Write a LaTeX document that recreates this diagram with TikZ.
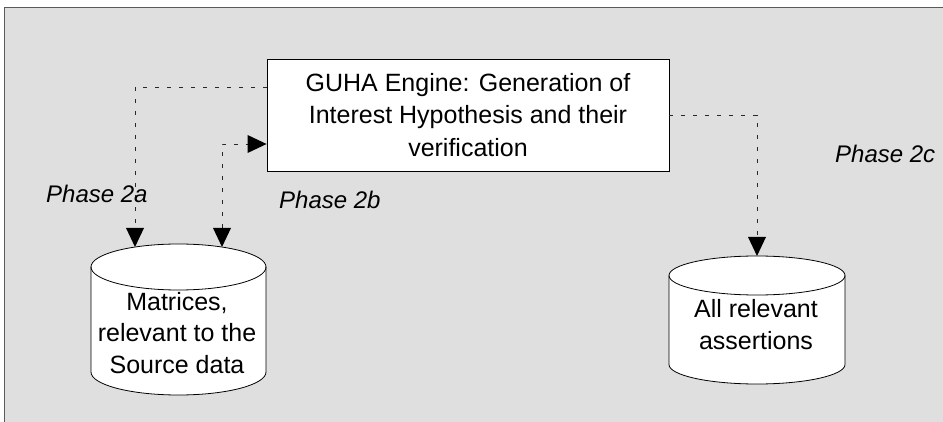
\documentclass[tikz,border=0pt]{standalone}
\usepackage{fontspec}
\setmainfont{Liberation Sans}
\usetikzlibrary{arrows.meta,calc}
\definecolor{panelgray}{RGB}{223,223,223}
\definecolor{framegray}{RGB}{90,90,90}
\definecolor{linegray}{RGB}{40,40,40}

% database drum drawn around an (invisible) rectangular node; #2 = half height of the end ellipse
\newcommand\drumaround[2]{%
  \path let \p1=(#1.north west), \p2=(#1.south east), \n1={(\x2-\x1)/2} in
    [fill=white, draw=black, line width=0.8pt]
      (\x1,\y1-#2pt) -- (\x1,\y2+#2pt)
      arc[start angle=180, end angle=360, x radius=\n1, y radius=#2pt]
      -- (\x2,\y1-#2pt)
      arc[start angle=0, end angle=180, x radius=\n1, y radius=#2pt] -- cycle;
  \path let \p1=(#1.north west), \p2=(#1.south east), \n1={(\x2-\x1)/2} in
    [draw=black, line width=0.8pt]
      (\x1,\y1-#2pt) arc[start angle=180, end angle=360, x radius=\n1, y radius=#2pt];
}

\tikzset{
  headtip/.tip={Triangle[length=19pt,width=18pt,line width=0pt,fill=black,color=black]},
  body/.style={font=\fontsize{25}{32.5}\selectfont, align=center},
  phase/.style={font=\fontsize{24}{29}\selectfont\itshape, anchor=base west, inner sep=0pt},
  enginebox/.style={draw=black, line width=0.8pt, fill=white, minimum width=402pt,
    minimum height=112pt, body},
  drumframe/.style={inner sep=0pt, outer sep=0pt},
  flow/.style={draw=linegray, line width=0.8pt, dash pattern=on 4pt off 8pt, -headtip},
  twoway/.style={flow, headtip-headtip},
}

\begin{document}
\begin{tikzpicture}[x=1pt, y=-1pt]
  \useasboundingbox (0,0) rectangle (943,422);

  % grey panel with its frame on the left and top
  \fill[panelgray] (4.5,7.5) rectangle (950,430);
  \draw[framegray, line width=0.8pt] (4.5,430) -- (4.5,7.5) -- (950,7.5);

  % data stores
  \node[drumframe, minimum width=175pt, minimum height=151pt] (src) at (178.5,319.5) {};
  \drumaround{src}{23}
  \node[body, font=\fontsize{25}{31.5}\selectfont] (srctext) at (177,333)
    {Matrices,\\relevant to the\\Source data};

  \node[drumframe, minimum width=176pt, minimum height=128pt] (dst) at (757,320) {};
  \drumaround{dst}{19.5}
  \node[body, font=\fontsize{25}{32}\selectfont] (dsttext) at (756,325)
    {All relevant\\assertions};

  % engine
  \node[enginebox] (guha) at (468,115)
    {GUHA Engine: Generation of\\Interest Hypothesis and their\\verification};

  % attachment points on the drum tops
  \coordinate (srcinA) at ($(src.north)+(-43.5,3)$);
  \coordinate (srcinB) at ($(src.north)+(43.5,3)$);

  % flows
  \draw[flow] ($(guha.west)+(0,-28)$) -| (srcinA);
  \draw[twoway] (srcinB) |- ($(guha.west)+(0,29)$);
  \draw[flow] (guha.east) -| (dst.north);

  % phase labels
  \node[phase] (p2a) at (46,203) {Phase 2a};
  \node[phase] (p2b) at (279,209) {Phase 2b};
  \node[phase] (p2c) at (835,163) {Phase 2c};
\end{tikzpicture}
\end{document}
